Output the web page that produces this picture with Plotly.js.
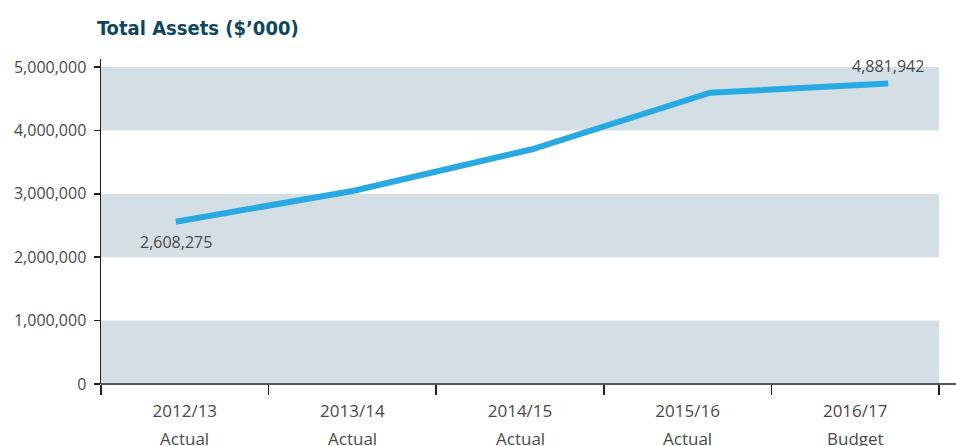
<!DOCTYPE html>
<html>
<head>
<meta charset="utf-8">
<script src="https://cdn.plot.ly/plotly-3.0.1.min.js"></script>
<style>html,body{margin:0;padding:0;background:#fff;}#chart{width:956px;height:446px;}</style>
</head>
<body>
<div id="chart"></div>
<script>
// Data
const years = ["2012/13", "2013/14", "2014/15", "2015/16", "2016/17"];
const periodTypes = ["Actual", "Actual", "Actual", "Actual", "Budget"];
const totalAssets = [2608275, 3118000, 3800000, 4730000, 4881942];
const pointLabels = ["2,608,275", "", "", "", "4,881,942"];
const labelShift = [-20, 0, 0, 0, 18];
const bandStarts = [0, 2000000, 4000000];
const bandEnds = [1000000, 3000000, 5000000];
const yTicks = [0, 1000000, 2000000, 3000000, 4000000, 5000000];

const textColor = "#4a4a4a";
const font = "'Open Sans', 'Noto Sans', sans-serif";

const shapes = bandStarts.map((s, i) => ({
  type: "rect", xref: "paper", yref: "y", x0: 0, x1: 1, y0: s, y1: bandEnds[i],
  fillcolor: "#d3dee5", line: {width: 0}, layer: "below"
}));
shapes.push({type: "line", xref: "paper", yref: "paper", x0: 0, x1: 1.022, y0: 0, y1: 0,
  line: {color: "#555", width: 2}, layer: "above"});

const annotations = periodTypes.map((t, i) => ({
  x: years[i], xref: "x", yref: "paper", y: 0, yshift: -54,
  text: t, showarrow: false, xanchor: "center", yanchor: "middle",
  font: {family: font, size: 17, color: textColor}
}));
pointLabels.forEach((lbl, i) => {
  if (!lbl) return;
  annotations.push({
    x: years[i], y: totalAssets[i], xref: "x2", yref: "y2", yshift: labelShift[i],
    text: lbl, showarrow: false, xanchor: "center", yanchor: "middle",
    font: {family: font, size: 16, color: textColor}
  });
});

// invisible trace that sets up the category axis with the ticks
const axisTrace = {
  x: years, y: totalAssets, type: "scatter", mode: "markers",
  marker: {opacity: 0, size: 1}, hoverinfo: "skip"
};
// The line in the source graphic is drawn on its own (slightly offset) scale
const trace = {
  x: years, y: totalAssets, type: "scatter", mode: "lines",
  xaxis: "x2", yaxis: "y2",
  line: {color: "#29a9e1", width: 6},
  cliponaxis: false, hoverinfo: "skip"
};

const layout = {
  width: 956, height: 446,
  margin: {l: 101, r: 17, t: 59, b: 62},
  paper_bgcolor: "#fff", plot_bgcolor: "rgba(0,0,0,0)",
  showlegend: false,
  title: {
    text: "<b>Total Assets ($’000)</b>",
    font: {family: "'DejaVu Sans Condensed', sans-serif", size: 20, color: "#0f475b"},
    xref: "container", yref: "container", x: 97 / 956, xanchor: "left", y: 1 - 28 / 446, yanchor: "middle"
  },
  xaxis: {
    type: "category", categoryorder: "array", categoryarray: years, range: [-0.5, 4.5],
    tickvals: years, ticktext: years,
    tickson: "boundaries", ticks: "outside", ticklen: 10, tickwidth: 1.5, tickcolor: "#231f20",
    showline: false, showgrid: false, zeroline: false,
    tickfont: {family: font, size: 17, color: textColor},
    ticklabelstandoff: 15,
    fixedrange: true
  },
  yaxis: {
    range: [0, 5126000], tickvals: yTicks, tickformat: ",d",
    ticks: "outside", ticklen: 6, tickwidth: 1.5, tickcolor: "#231f20",
    showline: true, linecolor: "#231f20", linewidth: 1.5,
    showgrid: false, zeroline: false,
    tickfont: {family: font, size: 16, color: textColor},
    ticklabelstandoff: 4,
    fixedrange: true
  },
  xaxis2: {
    type: "category", categoryorder: "array", categoryarray: years, range: [-0.42, 4.285],
    overlaying: "x", anchor: "y", visible: false, fixedrange: true
  },
  yaxis2: {
    range: [-61000, 5285000], overlaying: "y", anchor: "x", visible: false, fixedrange: true
  },
  shapes: shapes,
  annotations: annotations
};

Plotly.newPlot("chart", [axisTrace, trace], layout, {displayModeBar: false, staticPlot: true});
</script>
</body>
</html>
